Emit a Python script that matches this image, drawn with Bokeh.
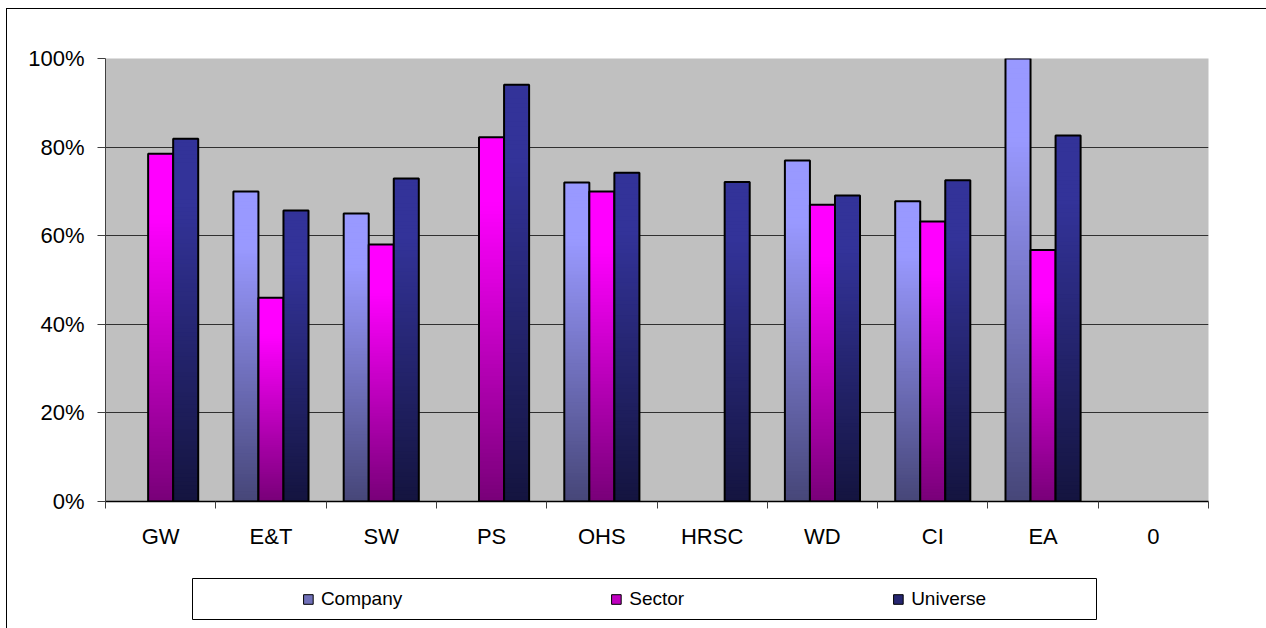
import numpy as np
from bokeh.plotting import figure
from bokeh.models import (FixedTicker, NumeralTickFormatter, CustomJSTickFormatter,
                          Range1d, Legend, LegendItem, ColumnDataSource)
from bokeh.layouts import column
from bokeh.embed import file_html
from bokeh.resources import INLINE

# ---- data -------------------------------------------------------------
categories = ["GW", "E&T", "SW", "PS", "OHS", "HRSC", "WD", "CI", "EA", "0"]
company = [None, 0.70, 0.65, None, 0.72, None, 0.77, 0.678, 1.00, None]
sector = [0.785, 0.46, 0.58, 0.822, 0.70, None, 0.67, 0.632, 0.568, None]
universe = [0.819, 0.657, 0.729, 0.941, 0.742, 0.721, 0.691, 0.725, 0.826, None]
series_names = ["Company", "Sector", "Universe"]
y_ticks = [0, 0.2, 0.4, 0.6, 0.8, 1.0]

# ---- styling ----------------------------------------------------------
FONT = "Liberation Sans"
BAR_W = 0.227
top_colors = ["#9999FF", "#FF00FF", "#333399"]
bottom_colors = ["#464678", "#780078", "#14143F"]
swatch_colors = ["#7070B8", "#C000C0", "#262670"]
offsets = [-BAR_W, 0.0, BAR_W]
N_SLICES = 90


def hex_rgb(h):
    h = h.lstrip("#")
    return np.array([int(h[i:i + 2], 16) for i in (0, 2, 4)], dtype=float)


def shade(c_top, c_bot, t):
    """t = 0 at the top of a bar, 1 at its base."""
    f = np.clip((t - 0.18) / 0.82, 0, 1)
    rgb = hex_rgb(c_top) + (hex_rgb(c_bot) - hex_rgb(c_top)) * f
    return "#%02x%02x%02x" % tuple(int(round(v)) for v in rgb)


W, H_MAIN, H_LEG = 1259, 561, 58

p = figure(width=W, height=H_MAIN, output_backend="svg", toolbar_location=None,
           x_range=Range1d(0, len(categories)), y_range=Range1d(0, 1),
           min_border_left=98, min_border_right=58, min_border_top=49,
           min_border_bottom=69, frame_align=False)
p.background_fill_color = "#C0C0C0"
p.border_fill_color = "white"
p.outline_line_color = None

# gradient-filled bars: nested slices drawn tallest first so each band shows
for s, vals in enumerate([company, sector, universe]):
    L, R, T, C = [], [], [], []
    for i, v in enumerate(vals):
        if v is None:
            continue
        xc = i + 0.5 + offsets[s]
        for k in range(N_SLICES, 0, -1):
            top = v * k / N_SLICES
            t = 1 - (k - 0.5) / N_SLICES
            L.append(xc - BAR_W / 2)
            R.append(xc + BAR_W / 2)
            T.append(top)
            C.append(shade(top_colors[s], bottom_colors[s], t))
    src = ColumnDataSource(dict(left=L, right=R, top=T, bottom=[0] * len(T), color=C))
    p.quad(left="left", right="right", top="top", bottom="bottom", source=src,
           fill_color="color", line_color=None)
    xs = [i + 0.5 + offsets[s] for i, v in enumerate(vals) if v is not None]
    tops = [v for v in vals if v is not None]
    p.vbar(x=xs, top=tops, bottom=0, width=BAR_W, fill_color=None,
           line_color="black", line_width=2)

# axes
p.xaxis.ticker = FixedTicker(ticks=[i + 0.5 for i in range(len(categories))],
                             minor_ticks=list(range(len(categories) + 1)))
p.xaxis.formatter = CustomJSTickFormatter(args=dict(labels=categories),
                                          code="return labels[Math.floor(tick)];")
p.xaxis.major_tick_line_color = None
p.xaxis.major_tick_out = 0
p.xaxis.major_tick_in = 0
p.xaxis.minor_tick_out = 7
p.xaxis.minor_tick_in = 0
p.xaxis.minor_tick_line_color = "#404040"
p.xaxis.axis_line_color = "black"
p.xaxis.axis_line_width = 1.5
p.xaxis.major_label_standoff = 15

p.yaxis.ticker = FixedTicker(ticks=y_ticks)
p.yaxis.formatter = NumeralTickFormatter(format="0%")
p.yaxis.major_tick_out = 8
p.yaxis.major_tick_in = 0
p.yaxis.minor_tick_line_color = None
p.yaxis.axis_line_color = "#404040"
p.yaxis.major_tick_line_color = "#404040"
p.yaxis.major_label_standoff = 13

for ax in (p.xaxis, p.yaxis):
    ax.major_label_text_font = FONT
    ax.major_label_text_font_size = "22px"
    ax.major_label_text_color = "black"

p.xgrid.visible = False
p.ygrid.ticker = FixedTicker(ticks=[0.2, 0.4, 0.6, 0.8])
p.ygrid.grid_line_color = "#303030"
p.ygrid.grid_line_width = 1

# ---- legend panel -----------------------------------------------------
lg = figure(width=W, height=H_LEG, output_backend="svg", toolbar_location=None,
            x_range=Range1d(0, 1), y_range=Range1d(0, 1),
            x_axis_location=None, y_axis_location=None,
            min_border_left=185, min_border_right=170, min_border_top=8,
            min_border_bottom=9, frame_align=False)
lg.grid.visible = False
lg.outline_line_color = "black"
lg.outline_line_width = 1
lg.background_fill_color = "white"

items = []
for name, col in zip(series_names, swatch_colors):
    # swatch-only renderers, kept outside the visible range
    r = lg.quad(left=[5], right=[6], top=[6], bottom=[5], fill_color=col,
                line_color="black", line_width=1)
    items.append(LegendItem(label=name, renderers=[r]))

legend = Legend(items=items, orientation="horizontal", location="center",
                spacing=208, glyph_width=12, glyph_height=12, label_standoff=7,
                label_text_font=FONT, label_text_font_size="19px",
                label_text_color="black",
                border_line_color=None, background_fill_alpha=0,
                padding=0, margin=0)
lg.add_layout(legend, "center")

layout = column(p, lg, spacing=0,
                styles={"margin-left": "6px", "margin-top": "8px",
                        "border-left": "1px solid black",
                        "border-top": "1px solid black"})

open("out.html", "w").write(file_html(layout, INLINE))
